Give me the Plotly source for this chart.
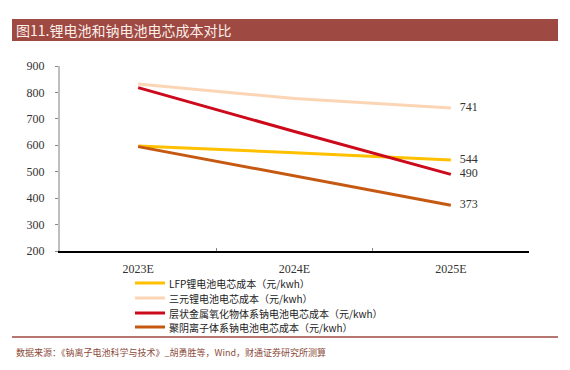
import plotly.graph_objects as go

categories = ["2023E", "2024E", "2025E"]
series_names = [
    "LFP锂电池电芯成本（元/kwh）",
    "三元锂电池电芯成本（元/kwh）",
    "层状金属氧化物体系钠电池电芯成本（元/kwh）",
    "聚阴离子体系钠电池电芯成本（元/kwh）",
]
lfp = [597, 572, 544]
ncm = [832, 777, 741]
layered = [818, 652, 490]
polyanion = [595, 483, 373]
y_ticks = [200, 300, 400, 500, 600, 700, 800, 900]
colors = ["#FFC000", "#FCD5B5", "#CC0A1C", "#C65911"]

values = [lfp, ncm, layered, polyanion]

fig = go.Figure()
for name, vals, col in zip(series_names, values, colors):
    labels = ["", "", "   " + str(vals[-1])]
    fig.add_trace(go.Scatter(
        x=categories, y=vals, name=name, mode="lines+text",
        line=dict(color=col, width=3),
        text=labels, textposition="middle right",
        textfont=dict(family="Liberation Serif", size=12, color="#333333"),
        showlegend=False, cliponaxis=False,
    ))

# page has an 8px body margin: screen coords = figure coords + 8
OFF = 8
# plot-area geometry in screen pixels
X0, X1, YT, YB = 60, 529, 66, 251
W, H = X1 - X0, YB - YT
def px(x):
    return (x - X0) / W
def py(y):
    return (YB - y) / H

shapes = []
annotations = []
# title bar
shapes.append(dict(type="rect", xref="paper", yref="paper",
                   x0=px(12), x1=px(558), y0=py(41), y1=py(19),
                   fillcolor="#9E4942", line=dict(width=0), layer="below"))
annotations.append(dict(xref="paper", yref="paper", x=px(14), y=py(30),
                        text="图11.锂电池和钠电池电芯成本对比", showarrow=False,
                        xanchor="left", yanchor="middle",
                        font=dict(family="Noto Sans CJK SC", size=14, color="#FBEFEA")))
# bottom separator
shapes.append(dict(type="line", xref="paper", yref="paper",
                   x0=px(12), x1=px(558), y0=py(337), y1=py(337),
                   line=dict(color="#9E4942", width=1.5)))
annotations.append(dict(xref="paper", yref="paper", x=px(14), y=py(352),
                        text="数据来源：《钠离子电池科学与技术》_胡勇胜等，Wind，财通证券研究所测算",
                        showarrow=False, xanchor="left", yanchor="middle",
                        font=dict(family="Noto Sans CJK SC", size=9, color="#8B4A3A")))
# legend
leg_y = [283, 298, 313, 327]
for name, col, ly in zip(series_names, colors, leg_y):
    shapes.append(dict(type="line", xref="paper", yref="paper",
                       x0=px(135), x1=px(165), y0=py(ly), y1=py(ly),
                       line=dict(color=col, width=3)))
    annotations.append(dict(xref="paper", yref="paper", x=px(167), y=py(ly),
                            text=name, showarrow=False, xanchor="left", yanchor="middle",
                            font=dict(family="Noto Sans CJK SC", size=10, color="#222222")))

fig.update_layout(
    width=570, height=370,
    margin=dict(l=X0 - OFF, r=570 - (X1 - OFF), t=YT - OFF, b=370 - (YB - OFF)),
    paper_bgcolor="white", plot_bgcolor="white",
    shapes=shapes, annotations=annotations,
    xaxis=dict(type="category", range=[-0.5, 2.5], showgrid=False,
               showline=True, linecolor="#000000", linewidth=1.5,
               ticks="inside", tickson="boundaries", ticklen=3, tickcolor="#888888",
               ticklabelstandoff=6,
               tickfont=dict(family="Liberation Serif", size=12, color="#333333")),
    yaxis=dict(range=[200, 900], tickvals=y_ticks, showgrid=False, zeroline=False,
               showline=True, linecolor="#BFBFBF", linewidth=2,
               ticks="outside", ticklen=3, tickcolor="#888888",
               ticklabelstandoff=8,
               tickfont=dict(family="Liberation Serif", size=12, color="#333333")),
)

fig.write_html("out.html")
